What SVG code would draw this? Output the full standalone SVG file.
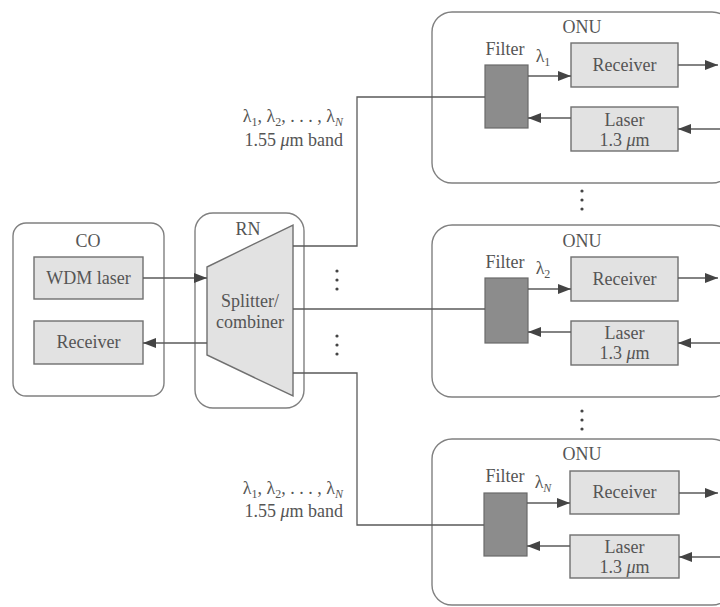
<svg xmlns="http://www.w3.org/2000/svg" width="720" height="607" viewBox="0 0 720 607">
<style>
.outer{fill:#fff;stroke:#808080;stroke-width:1.4}
.box{fill:#e2e2e2;stroke:#707070;stroke-width:1.4}
.filt{fill:#8c8c8c;stroke:#6a6a6a;stroke-width:1.2}
.ln{fill:none;stroke:#5a5a5a;stroke-width:1.3}
.t{font-family:"Liberation Serif","Times New Roman",serif;font-size:18px;fill:#555;text-anchor:middle}
.r{text-anchor:end}
.sub{font-size:12px}
.dot{fill:#444}
</style>
<defs>
<marker id="ah" viewBox="0 0 13 10" refX="13" refY="5" markerWidth="13" markerHeight="10" markerUnits="userSpaceOnUse" orient="auto">
<path d="M0,0 L13,5 L0,10 z" fill="#444"/>
</marker>
</defs>
<rect width="720" height="607" fill="#fff"/>

<g id="CO">
<rect class="outer" x="13" y="223" width="151" height="173" rx="13"/>
<text class="t" x="88" y="247">CO</text>
<g id="CO-laser"><rect class="box" x="34" y="257" width="109" height="42"/><text class="t" x="88.5" y="284">WDM laser</text></g>
<g id="CO-receiver"><rect class="box" x="34" y="321" width="109" height="43"/><text class="t" x="88.5" y="348">Receiver</text></g>
</g>

<g id="RN">
<rect class="outer" x="195" y="213" width="109" height="195" rx="18"/>
<text class="t" x="248" y="235">RN</text>
<polygon class="box" points="207,267 293,225 293,396 207,355"/>
<text class="t" x="250" y="307">Splitter/</text>
<text class="t" x="250" y="328">combiner</text>
</g>

<g id="ONU1">
<rect class="outer" x="432" y="12" width="300" height="171" rx="20"/>
<text class="t" x="582" y="33">ONU</text>
<text class="t" x="505" y="55">Filter</text>
<text class="t" x="543" y="62">λ<tspan class="sub" dy="4">1</tspan></text>
<rect class="filt" x="485" y="65" width="43" height="63"/>
<g id="ONU1-receiver"><rect class="box" x="571" y="43" width="107" height="44"/><text class="t" x="624.5" y="71">Receiver</text></g>
<g id="ONU1-laser"><rect class="box" x="571" y="107" width="107" height="44"/><text class="t" x="624.5" y="126">Laser</text><text class="t" x="624.5" y="146">1.3 <tspan font-style="italic">μ</tspan>m</text></g>
</g>

<g id="ONU2">
<rect class="outer" x="432" y="225" width="300" height="172" rx="20"/>
<text class="t" x="582" y="247">ONU</text>
<text class="t" x="505" y="268">Filter</text>
<text class="t" x="543" y="274">λ<tspan class="sub" dy="4">2</tspan></text>
<rect class="filt" x="485" y="278" width="43" height="65"/>
<g id="ONU2-receiver"><rect class="box" x="571" y="257" width="107" height="44"/><text class="t" x="624.5" y="285">Receiver</text></g>
<g id="ONU2-laser"><rect class="box" x="571" y="321" width="107" height="44"/><text class="t" x="624.5" y="339">Laser</text><text class="t" x="624.5" y="359">1.3 <tspan font-style="italic">μ</tspan>m</text></g>
</g>

<g id="ONU3">
<rect class="outer" x="432" y="439" width="300" height="166" rx="20"/>
<text class="t" x="582" y="460">ONU</text>
<text class="t" x="505" y="482">Filter</text>
<text class="t" x="543" y="488">λ<tspan class="sub" dy="4" font-style="italic">N</tspan></text>
<rect class="filt" x="484" y="493" width="43" height="63"/>
<g id="ONU3-receiver"><rect class="box" x="570" y="471" width="109" height="43"/><text class="t" x="624.5" y="498">Receiver</text></g>
<g id="ONU3-laser"><rect class="box" x="570" y="535" width="109" height="43"/><text class="t" x="624.5" y="553">Laser</text><text class="t" x="624.5" y="573">1.3 <tspan font-style="italic">μ</tspan>m</text></g>
</g>

<g id="labels">
<text class="t r" x="343" y="122">λ<tspan class="sub" dy="4">1</tspan><tspan dy="-4">, λ</tspan><tspan class="sub" dy="4">2</tspan><tspan dy="-4">, . . . , λ</tspan><tspan class="sub" dy="4" font-style="italic">N</tspan></text>
<text class="t r" x="343" y="146">1.55 <tspan font-style="italic">μ</tspan>m band</text>
<text class="t r" x="343" y="494">λ<tspan class="sub" dy="4">1</tspan><tspan dy="-4">, λ</tspan><tspan class="sub" dy="4">2</tspan><tspan dy="-4">, . . . , λ</tspan><tspan class="sub" dy="4" font-style="italic">N</tspan></text>
<text class="t r" x="343" y="517">1.55 <tspan font-style="italic">μ</tspan>m band</text>
</g>

<g id="ellipses">
<circle class="dot" cx="337" cy="271" r="1.6"/><circle class="dot" cx="337" cy="280" r="1.6"/><circle class="dot" cx="337" cy="289" r="1.6"/>
<circle class="dot" cx="337" cy="336" r="1.6"/><circle class="dot" cx="337" cy="345" r="1.6"/><circle class="dot" cx="337" cy="354" r="1.6"/>
<circle class="dot" cx="582" cy="191" r="1.6"/><circle class="dot" cx="582" cy="200" r="1.6"/><circle class="dot" cx="582" cy="209" r="1.6"/>
<circle class="dot" cx="582" cy="411" r="1.6"/><circle class="dot" cx="582" cy="420" r="1.6"/><circle class="dot" cx="582" cy="429" r="1.6"/>
</g>

<g id="connectors">
<line class="ln" x1="143" y1="278" x2="207" y2="278" marker-end="url(#ah)"/>
<line class="ln" x1="207" y1="343" x2="143" y2="343" marker-end="url(#ah)"/>
<polyline class="ln" points="293,246 357,246 357,97 485,97"/>
<line class="ln" x1="293" y1="309" x2="485" y2="309"/>
<polyline class="ln" points="293,373 357,373 357,525 484,525"/>
<line class="ln" x1="528" y1="76" x2="571" y2="76" marker-end="url(#ah)"/>
<line class="ln" x1="571" y1="118" x2="528" y2="118" marker-end="url(#ah)"/>
<line class="ln" x1="678" y1="65" x2="718" y2="65" marker-end="url(#ah)"/>
<line class="ln" x1="720" y1="129" x2="678" y2="129" marker-end="url(#ah)"/>
<line class="ln" x1="528" y1="289" x2="571" y2="289" marker-end="url(#ah)"/>
<line class="ln" x1="571" y1="332" x2="528" y2="332" marker-end="url(#ah)"/>
<line class="ln" x1="678" y1="278" x2="718" y2="278" marker-end="url(#ah)"/>
<line class="ln" x1="720" y1="343" x2="678" y2="343" marker-end="url(#ah)"/>
<line class="ln" x1="527" y1="503" x2="570" y2="503" marker-end="url(#ah)"/>
<line class="ln" x1="570" y1="546" x2="527" y2="546" marker-end="url(#ah)"/>
<line class="ln" x1="679" y1="493" x2="718" y2="493" marker-end="url(#ah)"/>
<line class="ln" x1="720" y1="557" x2="679" y2="557" marker-end="url(#ah)"/>
</g>
</svg>
